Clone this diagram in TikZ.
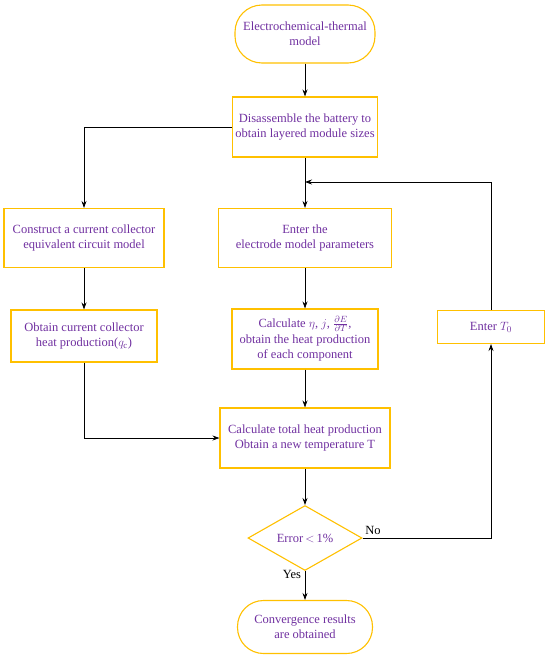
\documentclass[tikz,border=0pt]{standalone}
\usepackage{fontspec}
\setmainfont{Liberation Serif}
\usetikzlibrary{shapes.geometric,arrows.meta}
\definecolor{boxor}{HTML}{FFC000}
\definecolor{txtpu}{HTML}{7030A0}
\begin{document}
\begin{tikzpicture}[x=1pt,y=-1pt,
  every node/.style={font=\fontsize{12.5}{15}\selectfont, text=txtpu, align=center},
  procbox/.style={draw=boxor, line width=1.1pt, rectangle, inner sep=2pt},
  termbox/.style={draw=boxor, line width=1.1pt, rectangle, rounded corners=27pt, inner sep=2pt},
  decbox/.style={draw=boxor, line width=1.1pt, diamond, inner sep=0pt},
  arr/.style={draw=black, line width=0.8pt, -{Stealth[length=7pt,width=5pt]}},
  ln/.style={draw=black, line width=0.8pt},
  lab/.style={text=black}
]
\useasboundingbox (0,0) rectangle (550,659);
\node[termbox, minimum width=140pt, minimum height=58pt] (start) at (305,34) {Electrochemical-thermal\\model};
\node[procbox, minimum width=145pt, minimum height=60pt] (dis) at (305,127) {Disassemble the battery to\\obtain layered module sizes};
\node[procbox, minimum width=160pt, minimum height=59pt] (con) at (84,238) {Construct a current collector\\equivalent circuit model};
\node[procbox, minimum width=173pt, minimum height=59pt] (ent) at (305,238) {Enter the\\electrode model parameters};
\node[procbox, minimum width=146pt, minimum height=52pt] (obt) at (84,336) {Obtain current collector\\heat production($q_{\mathrm{c}}$)};
\node[procbox, minimum width=146pt, minimum height=60pt] (calc) at (305,339) {Calculate $\eta$, $j$, $\frac{\partial E}{\partial T}$,\\[1pt]obtain the heat production\\of each component};
\node[procbox, minimum width=107pt, minimum height=33pt] (t0) at (491,327) {Enter $T_0$};
\node[procbox, minimum width=170pt, minimum height=60pt] (tot) at (305,438) {Calculate total heat production\\Obtain a new temperature T};
\node[decbox, minimum width=114pt, minimum height=51pt] (err) at (305,538) {Error\,$<$\,1\%};
\node[termbox, minimum width=135pt, minimum height=53pt, rounded corners=26pt] (end) at (305,627) {Convergence results\\are obtained};
\coordinate (lc) at (84,127);
\coordinate (lb) at (84,438);
\coordinate (rc) at (491,538);
\coordinate (rt) at (491,182);
\coordinate (jn) at (305,182);
\draw[arr] (start) -- (dis);
\draw[arr] (dis) -- (ent);
\draw[arr] (dis.west) -- (lc) -- (con);
\draw[arr] (con) -- (obt);
\draw[arr] (obt) -- (lb) -- (tot.west);
\draw[arr] (ent) -- (calc);
\draw[arr] (calc) -- (tot);
\draw[arr] (tot) -- (err);
\draw[arr] (err) -- (end);
\draw[arr] (err.east) -- (rc) -- (t0);
\draw[arr] (t0) -- (rt) -- (jn);
\node[lab] at (373,530) {No};
\node[lab] at (292,574) {Yes};
\end{tikzpicture}
\end{document}
